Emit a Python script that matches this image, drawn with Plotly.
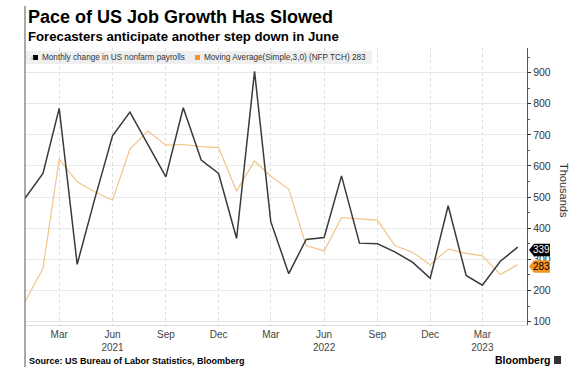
import plotly.graph_objects as go

# ---- data ----
months = ["2021-01-01", "2021-02-01", "2021-03-01", "2021-04-01", "2021-05-01", "2021-06-01",
          "2021-07-01", "2021-08-01", "2021-09-01", "2021-10-01", "2021-11-01", "2021-12-01",
          "2022-01-01", "2022-02-01", "2022-03-01", "2022-04-01", "2022-05-01", "2022-06-01",
          "2022-07-01", "2022-08-01", "2022-09-01", "2022-10-01", "2022-11-01", "2022-12-01",
          "2023-01-01", "2023-02-01", "2023-03-01", "2023-04-01", "2023-05-01"]
payrolls = [496, 576, 785, 284, 492, 697, 773, 669, 565, 787, 619, 576,
            367, 904, 421, 254, 364, 370, 568, 352, 350, 324, 290, 239,
            472, 248, 217, 294, 339]
moving_avg = [164, 271, 622, 549, 517, 490, 654, 712, 667, 669, 662, 659,
              519, 616, 567, 525, 344, 327, 434, 431, 426, 344, 322, 283,
              333, 319, 311, 251, 283]
tick_dates = ["2021-03-01", "2021-06-01", "2021-09-01", "2021-12-01", "2022-03-01",
              "2022-06-01", "2022-09-01", "2022-12-01", "2023-03-01"]
tick_text = ["Mar", "Jun<br>2021", "Sep", "Dec", "Mar", "Jun<br>2022", "Sep", "Dec", "Mar<br>2023"]
y_ticks = [100, 200, 300, 400, 500, 600, 700, 800, 900]
series_names = ["Monthly change in US nonfarm payrolls", "Moving Average(Simple,3,0) (NFP TCH) 283"]

W, H = 573, 367
L, R, T, B = 25, 527, 48, 325

def px(x):
    return (x - L) / (R - L)

def py(y):
    return (B - y) / (B - T)

FONT = "Liberation Sans, Arial, sans-serif"

fig = go.Figure()
fig.add_trace(go.Scatter(x=months, y=moving_avg, mode="lines", name=series_names[1],
                         line=dict(color="#f2c489", width=1.2)))
fig.add_trace(go.Scatter(x=months, y=payrolls, mode="lines", name=series_names[0],
                         line=dict(color="#3a3a3a", width=1.5)))

shapes = []
annotations = []

# left frame line
shapes.append(dict(type="line", xref="paper", yref="paper", x0=px(25), x1=px(25),
                   y0=py(6), y1=py(367), line=dict(color="#555", width=1)))

# legend band
shapes.append(dict(type="rect", xref="paper", yref="paper", x0=px(25.5), x1=px(372),
                   y0=py(51), y1=py(64), fillcolor="#efefef", line=dict(width=0), layer="below"))
shapes.append(dict(type="rect", xref="paper", yref="paper", x0=px(33), x1=px(38),
                   y0=py(55), y1=py(60), fillcolor="#000", line=dict(width=0)))
shapes.append(dict(type="rect", xref="paper", yref="paper", x0=px(195), x1=px(200),
                   y0=py(55), y1=py(60), fillcolor="#f7941d", line=dict(width=0)))
annotations.append(dict(xref="paper", yref="paper", x=px(28.5), y=py(57.5), text="≡",
                        showarrow=False, xanchor="left", yanchor="middle",
                        font=dict(family=FONT, size=5, color="#999")))
annotations.append(dict(xref="paper", yref="paper", x=px(39.5), y=py(57.5), text=series_names[0],
                        showarrow=False, xanchor="left", yanchor="middle",
                        font=dict(family=FONT, size=8.2, color="#333")))
annotations.append(dict(xref="paper", yref="paper", x=px(201.5), y=py(57.5), text=series_names[1],
                        showarrow=False, xanchor="left", yanchor="middle",
                        font=dict(family=FONT, size=8.2, color="#333")))

# end labels
def end_label(yc, text, fill, fcolor):
    x0, xt, x1 = 529, 534, 550
    h = 6.2
    path = (f"M {px(x0)} {py(yc)} L {px(xt)} {py(yc - h)} L {px(x1)} {py(yc - h)} "
            f"L {px(x1)} {py(yc + h)} L {px(xt)} {py(yc + h)} Z")
    shapes.append(dict(type="path", xref="paper", yref="paper", path=path,
                       fillcolor=fill, line=dict(width=0)))
    annotations.append(dict(xref="paper", yref="paper", x=px(541.5), y=py(yc), text=text,
                            showarrow=False, xanchor="center", yanchor="middle",
                            font=dict(family=FONT, size=10, color=fcolor)))

end_label(250, str(payrolls[-1]), "#000", "#fff")
end_label(266.5, str(moving_avg[-1]), "#f7941d", "#000")

# titles
annotations.append(dict(xref="paper", yref="paper", x=px(26), y=py(17.5),
                        text="<b>Pace of US Job Growth Has Slowed</b>", showarrow=False,
                        xanchor="left", yanchor="middle",
                        font=dict(family=FONT, size=18, color="#000")))
annotations.append(dict(xref="paper", yref="paper", x=px(26), y=py(36),
                        text="<b>Forecasters anticipate another step down in June</b>", showarrow=False,
                        xanchor="left", yanchor="middle",
                        font=dict(family=FONT, size=13.2, color="#000")))
annotations.append(dict(xref="paper", yref="paper", x=px(26.5), y=py(361),
                        text="<b>Source: US Bureau of Labor Statistics, Bloomberg</b>", showarrow=False,
                        xanchor="left", yanchor="middle",
                        font=dict(family=FONT, size=9, color="#000")))
annotations.append(dict(xref="paper", yref="paper", x=px(552), y=py(360),
                        text="<b>Bloomberg</b>", showarrow=False,
                        xanchor="right", yanchor="middle",
                        font=dict(family=FONT, size=10.5, color="#000")))
shapes.append(dict(type="rect", xref="paper", yref="paper", x0=px(554), x1=px(561),
                   y0=py(356), y1=py(364), fillcolor="#333", line=dict(width=0)))
annotations.append(dict(xref="paper", yref="paper", x=px(564), y=py(190),
                        text="Thousands", textangle=90, showarrow=False,
                        xanchor="center", yanchor="middle",
                        font=dict(family=FONT, size=11, color="#333")))

fig.update_layout(
    width=W, height=H,
    margin=dict(l=L, r=W - R, t=T, b=H - B, pad=0),
    paper_bgcolor="#fff", plot_bgcolor="#fff",
    showlegend=False,
    shapes=shapes, annotations=annotations,
    xaxis=dict(type="date", range=["2021-01-01", "2023-05-17"],
               tickvals=tick_dates, ticktext=tick_text, tickangle=0,
               showgrid=True, gridcolor="#dcdcdc", griddash="dot", gridwidth=1,
               showline=True, linecolor="#dddddd", linewidth=1,
               ticks="", zeroline=False,
               tickfont=dict(family=FONT, size=10, color="#444")),
    yaxis=dict(side="right", range=[89, 979], tickvals=y_ticks,
               showgrid=True, gridcolor="#e9e9e9", gridwidth=1,
               showline=True, linecolor="#555", linewidth=1.2,
               ticks="outside", ticklen=3, tickcolor="#333",
               minor=dict(ticks="outside", ticklen=2, dtick=50, tickcolor="#555", showgrid=False),
               zeroline=False,
               tickfont=dict(family=FONT, size=10.5, color="#333")),
)

fig.write_html("out.html")
